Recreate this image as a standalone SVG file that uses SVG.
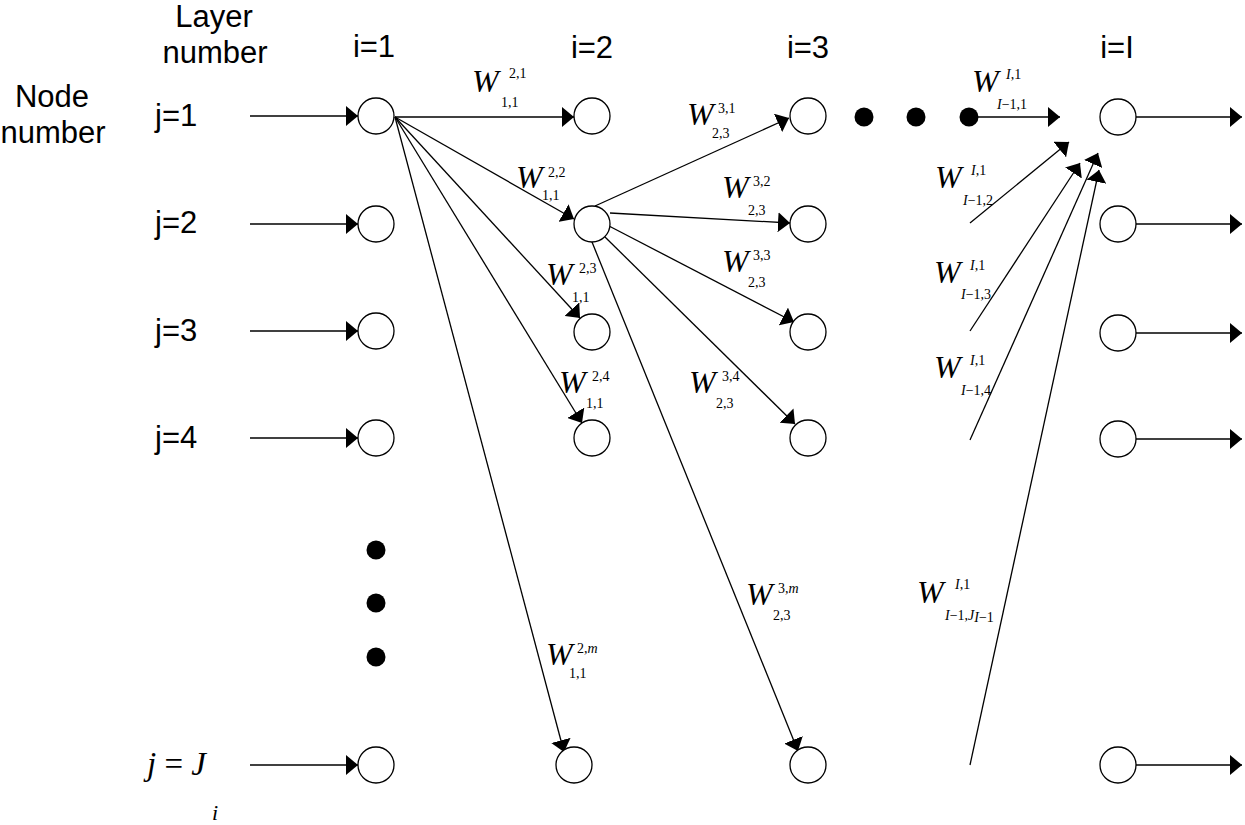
<svg xmlns="http://www.w3.org/2000/svg" width="1245" height="825" viewBox="0 0 1245 825">
<style>
.lbl{font-family:"Liberation Sans",Arial,sans-serif;font-size:31px;fill:#000}
.w{font-family:"Liberation Serif","Times New Roman",serif;font-style:italic;font-size:32px;fill:#000}
.s{font-family:"Liberation Serif","Times New Roman",serif;font-size:14px;fill:#000}
.it{font-style:italic}
.node{fill:#fff;stroke:#000;stroke-width:1.3}
.dot{fill:#000}
.c{stroke:#000;stroke-width:1.3;fill:none;marker-end:url(#ah)}
</style>
<defs>
<marker id="ah" viewBox="0 0 12 20" refX="12" refY="10" markerWidth="12" markerHeight="20" markerUnits="userSpaceOnUse" orient="auto">
<path d="M0,0 L12,10 L0,20 z" fill="#000"/>
</marker>
</defs>
<rect width="1245" height="825" fill="#fff"/>

<g id="headers">
<text class="lbl" x="214" y="27" text-anchor="middle">Layer</text>
<text class="lbl" x="215" y="63" text-anchor="middle">number</text>
<text class="lbl" x="52" y="107" text-anchor="middle">Node</text>
<text class="lbl" x="53" y="143" text-anchor="middle">number</text>
<text class="lbl" x="374" y="57" text-anchor="middle">i=1</text>
<text class="lbl" x="592" y="58" text-anchor="middle">i=2</text>
<text class="lbl" x="808" y="58" text-anchor="middle">i=3</text>
<text class="lbl" x="1117" y="58" text-anchor="middle">i=I</text>
<text class="lbl" x="155" y="126">j=1</text>
<text class="lbl" x="155" y="233">j=2</text>
<text class="lbl" x="155" y="341">j=3</text>
<text class="lbl" x="155" y="448">j=4</text>
<text x="147" y="775" style="font-family:'Liberation Serif','Times New Roman',serif;font-size:33px"><tspan font-style="italic">j</tspan> = <tspan font-style="italic">J</tspan></text>
<text x="212" y="820" style="font-family:'Liberation Serif','Times New Roman',serif;font-size:22px;font-style:italic">i</text>
</g>

<g id="connectors">
<line class="c" x1="250" y1="116" x2="358" y2="116"/>
<line class="c" x1="250" y1="224" x2="358" y2="224"/>
<line class="c" x1="250" y1="331" x2="358" y2="331"/>
<line class="c" x1="250" y1="438" x2="358" y2="438"/>
<line class="c" x1="250" y1="765" x2="358" y2="765"/>

<line class="c" x1="395" y1="117" x2="574" y2="117"/>
<line class="c" x1="395" y1="117" x2="574" y2="219"/>
<line class="c" x1="395" y1="117" x2="580" y2="318"/>
<line class="c" x1="395" y1="117" x2="582" y2="423"/>
<line class="c" x1="395" y1="117" x2="564" y2="752"/>

<line class="c" x1="595" y1="206" x2="789" y2="118"/>
<line class="c" x1="610" y1="213" x2="790" y2="223"/>
<line class="c" x1="609" y1="226" x2="794" y2="322"/>
<line class="c" x1="605" y1="237" x2="795" y2="424"/>
<line class="c" x1="592" y1="242" x2="798" y2="751"/>

<line class="c" x1="970" y1="117" x2="1060" y2="117"/>
<line class="c" x1="970" y1="223" x2="1069" y2="142"/>
<line class="c" x1="970" y1="331" x2="1080" y2="163"/>
<line class="c" x1="970" y1="440" x2="1098" y2="153"/>
<line class="c" x1="970" y1="765" x2="1099" y2="170"/>

<line class="c" x1="1136" y1="117" x2="1242" y2="117"/>
<line class="c" x1="1136" y1="224" x2="1242" y2="224"/>
<line class="c" x1="1136" y1="333" x2="1242" y2="333"/>
<line class="c" x1="1136" y1="439" x2="1242" y2="439"/>
<line class="c" x1="1136" y1="765" x2="1242" y2="765"/>
</g>

<g id="layer1">
<circle id="n1_1" class="node" cx="376" cy="116" r="18"/>
<circle id="n1_2" class="node" cx="376" cy="224" r="18"/>
<circle id="n1_3" class="node" cx="376" cy="331" r="18"/>
<circle id="n1_4" class="node" cx="376" cy="438" r="18"/>
<circle id="n1_J" class="node" cx="376" cy="765" r="18"/>
<circle class="dot" cx="376" cy="550" r="9.5"/>
<circle class="dot" cx="376" cy="603" r="9.5"/>
<circle class="dot" cx="376" cy="657" r="9.5"/>
</g>
<g id="layer2">
<circle id="n2_1" class="node" cx="592" cy="116" r="18"/>
<circle id="n2_2" class="node" cx="592" cy="224" r="18"/>
<circle id="n2_3" class="node" cx="592" cy="332" r="18"/>
<circle id="n2_4" class="node" cx="592" cy="438" r="18"/>
<circle id="n2_m" class="node" cx="574" cy="765" r="18"/>
</g>
<g id="layer3">
<circle id="n3_1" class="node" cx="808" cy="116" r="18"/>
<circle id="n3_2" class="node" cx="808" cy="224" r="18"/>
<circle id="n3_3" class="node" cx="808" cy="332" r="18"/>
<circle id="n3_4" class="node" cx="808" cy="438" r="18"/>
<circle id="n3_m" class="node" cx="808" cy="765" r="18"/>
<circle class="dot" cx="864" cy="117" r="9.5"/>
<circle class="dot" cx="916" cy="117" r="9.5"/>
<circle class="dot" cx="969" cy="117" r="9.5"/>
</g>
<g id="layerI">
<circle id="nI_1" class="node" cx="1118" cy="117" r="18"/>
<circle id="nI_2" class="node" cx="1118" cy="224" r="18"/>
<circle id="nI_3" class="node" cx="1118" cy="333" r="18"/>
<circle id="nI_4" class="node" cx="1118" cy="439" r="18"/>
<circle id="nI_J" class="node" cx="1118" cy="765" r="18"/>
</g>

<g id="weights">
<text class="w" x="472" y="92">W</text><text class="s" x="509" y="78">2,1</text><text class="s" x="501" y="107">1,1</text>
<text class="w" x="516" y="188">W</text><text class="s" x="548" y="177">2,2</text><text class="s" x="542" y="200">1,1</text>
<text class="w" x="546" y="285">W</text><text class="s" x="579" y="273">2,3</text><text class="s" x="572" y="302">1,1</text>
<text class="w" x="559" y="393">W</text><text class="s" x="592" y="381">2,4</text><text class="s" x="586" y="408">1,1</text>
<text class="w" x="546" y="665">W</text><text class="s" x="577" y="653">2,<tspan class="it">m</tspan></text><text class="s" x="569" y="678">1,1</text>

<text class="w" x="687" y="125">W</text><text class="s" x="718" y="113">3,1</text><text class="s" x="712" y="138">2,3</text>
<text class="w" x="722" y="198">W</text><text class="s" x="753" y="186">3,2</text><text class="s" x="748" y="215">2,3</text>
<text class="w" x="722" y="272">W</text><text class="s" x="753" y="260">3,3</text><text class="s" x="748" y="287">2,3</text>
<text class="w" x="689" y="393">W</text><text class="s" x="722" y="381">3,4</text><text class="s" x="716" y="408">2,3</text>
<text class="w" x="746" y="605">W</text><text class="s" x="778" y="593">3,<tspan class="it">m</tspan></text><text class="s" x="773" y="620">2,3</text>

<text class="w" x="972" y="92">W</text><text class="s" x="1006" y="79"><tspan class="it">I</tspan>,1</text><text class="s" x="997" y="109"><tspan class="it">I</tspan>−1,1</text>
<text class="w" x="935" y="188">W</text><text class="s" x="971" y="175"><tspan class="it">I</tspan>,1</text><text class="s" x="963" y="205"><tspan class="it">I</tspan>−1,2</text>
<text class="w" x="934" y="283">W</text><text class="s" x="970" y="270"><tspan class="it">I</tspan>,1</text><text class="s" x="961" y="299"><tspan class="it">I</tspan>−1,3</text>
<text class="w" x="934" y="378">W</text><text class="s" x="970" y="365"><tspan class="it">I</tspan>,1</text><text class="s" x="961" y="395"><tspan class="it">I</tspan>−1,4</text>
<text class="w" x="917" y="603">W</text><text class="s" x="955" y="589"><tspan class="it">I</tspan>,1</text><text class="s" x="945" y="620"><tspan class="it">I</tspan>−1,<tspan class="it">J</tspan><tspan class="it" dy="2">I</tspan>−1</text>
</g>
</svg>
